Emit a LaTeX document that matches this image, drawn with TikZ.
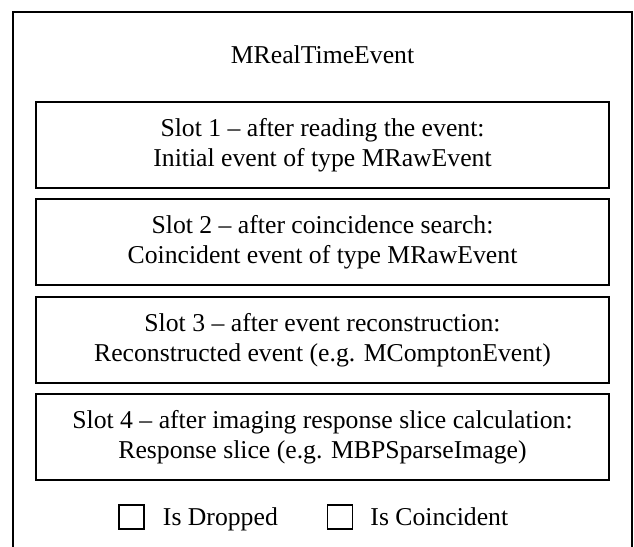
\documentclass[tikz,border=0pt]{standalone}
\usepackage{fontspec}
\setmainfont{Liberation Serif}
\usetikzlibrary{positioning}

\begin{document}
\begin{tikzpicture}[x=1pt, y=1pt, every node/.style={font=\fontsize{25.7}{29.5}\selectfont}]
	\tikzset{slotbox/.style={draw, line width=1.6pt, minimum width=573pt, minimum height=86pt, align=center, inner sep=0pt}}
	\tikzset{chkbox/.style={draw, line width=1.5pt, minimum width=25pt, minimum height=24pt, inner sep=0pt}}
	\tikzset{chklabel/.style={inner sep=0pt, text height=17.5pt, text depth=5.7pt, yshift=-3pt}}
	\clip (0,0) rectangle (634,546);
	\draw[line width=1.8pt] (13,-20) rectangle (632,534);
	\node (title) at (322.5,491) {MRealTimeEvent};
	\node[slotbox] (s1) at (322.5,401) {Slot 1 – after reading the event:\\Initial event of type MRawEvent};
	\node[slotbox] (s2) at (322.5,304) {Slot 2 – after coincidence search:\\Coincident event of type MRawEvent};
	\node[slotbox] (s3) at (322.5,206) {Slot 3 – after event reconstruction:\\Reconstructed event (e.g. MComptonEvent)};
	\node[slotbox] (s4) at (322.5,109) {Slot 4 – after imaging response slice calculation:\\Response slice (e.g. MBPSparseImage)};
	\node[chkbox] (drop) at (131.5,29) {};
	\node[chklabel, right=18pt of drop] (droplbl) {Is Dropped};
	\node[chkbox] (coin) at (340,29) {};
	\node[chklabel, right=17pt of coin] (coinlbl) {Is Coincident};
\end{tikzpicture}
\end{document}
